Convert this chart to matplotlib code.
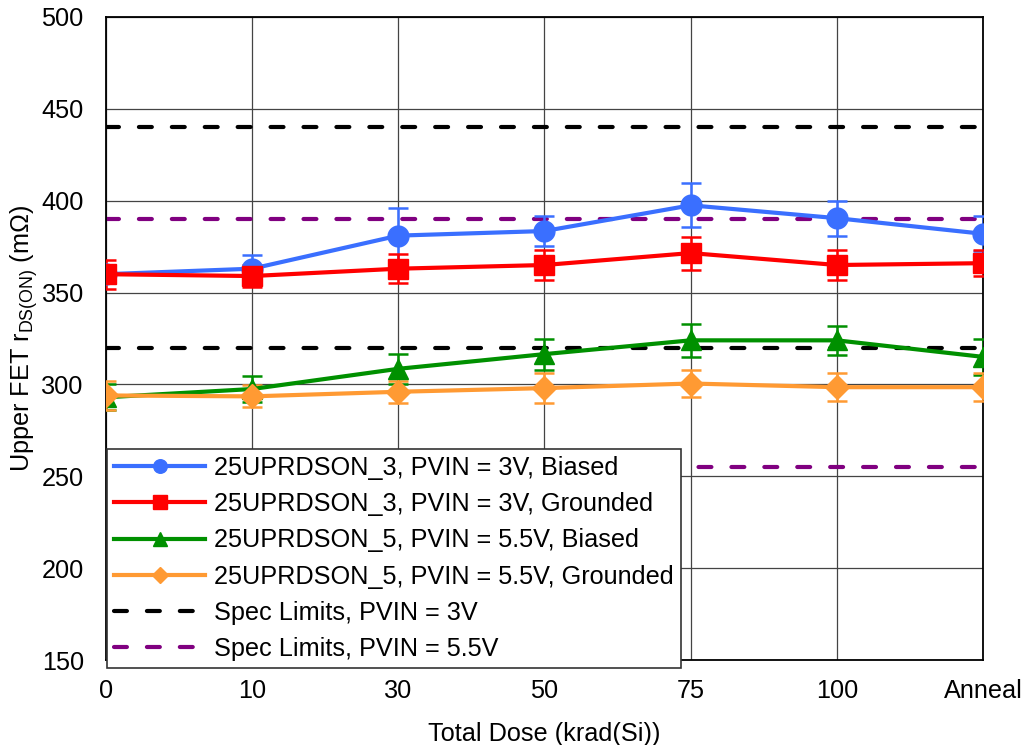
import matplotlib
matplotlib.use("Agg")
import matplotlib.pyplot as plt

plt.rcParams['font.family'] = ['Liberation Sans', 'DejaVu Sans']
plt.rcParams['mathtext.fontset'] = 'custom'
plt.rcParams['mathtext.rm'] = 'Liberation Sans'

categories = ["0", "10", "30", "50", "75", "100", "Anneal"]

biased_3 = [360, 363, 381, 383.5, 397.5, 390.5, 382]
biased_3_err = [5, 7.5, 15, 8, 12, 9.5, 9.5]
grounded_3 = [360, 359, 363, 365, 371.5, 365, 366]
grounded_3_err = [8, 6, 8, 8, 9, 8, 7]
biased_5 = [293, 297.5, 308.5, 316.5, 324, 324, 315]
biased_5_err = [7, 7, 8, 8.5, 9, 8, 10]
grounded_5 = [294, 293.5, 296, 298, 300.5, 298.5, 298.5]
grounded_5_err = [8, 6, 6, 8, 7.5, 7.5, 7.5]

spec_3v = [440, 320]
spec_55v = [390, 255]

series_labels = ["25UPRDSON_3, PVIN = 3V, Biased",
                 "25UPRDSON_3, PVIN = 3V, Grounded",
                 "25UPRDSON_5, PVIN = 5.5V, Biased",
                 "25UPRDSON_5, PVIN = 5.5V, Grounded"]
spec_labels = ["Spec Limits, PVIN = 3V", "Spec Limits, PVIN = 5.5V"]

FS = 18.2

fig = plt.figure(figsize=(10.26, 7.45), dpi=100)
ax = fig.add_axes([106/1026, 1-660/745, 877/1026, 643/745])

x = list(range(len(categories)))

styles = [
    (biased_3, biased_3_err, '#3A6FFF', 'o', 15),
    (grounded_3, grounded_3_err, '#FF0000', 's', 15),
    (biased_5, biased_5_err, '#009000', '^', 15),
    (grounded_5, grounded_5_err, '#FF9A33', 'D', 12.5),
]

handles = []
for (vals, errs, col, mk, ms), lab in zip(styles, series_labels):
    ax.errorbar(x, vals, yerr=errs, fmt='none', ecolor=col, elinewidth=1.8,
                capsize=7, capthick=1.8, zorder=3)
    h, = ax.plot(x, vals, color=col, lw=3, marker=mk, markersize=ms,
                 label=lab, zorder=4)
    handles.append(h)

for col, vals, lab in [('#000000', spec_3v, spec_labels[0]),
                       ('#800080', spec_55v, spec_labels[1])]:
    for i, v in enumerate(vals):
        h, = ax.plot([0, len(categories) - 1], [v, v], color=col, lw=3,
                     dashes=(3.1, 4.8), dash_capstyle='round', zorder=2,
                     label=lab if i == 0 else None)
        if i == 0:
            handles.append(h)

ax.set_xlim(0, len(categories) - 1)
ax.set_ylim(150, 500)
ax.set_xticks(x)
ax.set_xticklabels(categories)
ax.set_yticks(range(150, 501, 50))
ax.tick_params(axis='both', length=0, labelsize=FS)
ax.tick_params(axis='x', pad=14)
ax.tick_params(axis='y', pad=16)
ax.grid(True, color='#444444', lw=0.9, zorder=1)
ax.set_axisbelow(True)
for s in ax.spines.values():
    s.set_color('black')
    s.set_linewidth(1.3)

ax.set_xlabel("Total Dose (krad(Si))", fontsize=FS, labelpad=13)
ax.set_ylabel(r"Upper FET r$_{\mathregular{DS(ON)}}$ (m$\Omega$)", fontsize=FS, labelpad=1)

leg = ax.legend(handles=handles, loc='lower left', bbox_to_anchor=(0.001, -0.013),
                borderaxespad=0, fontsize=FS, handlelength=3.6, markerscale=0.65,
                fancybox=False, framealpha=1, edgecolor='#333333',
                labelspacing=0.48, borderpad=0.3, handletextpad=0.32)
leg.get_frame().set_linewidth(1.2)
leg.set_zorder(10)

fig.savefig("out.png", dpi=100)
